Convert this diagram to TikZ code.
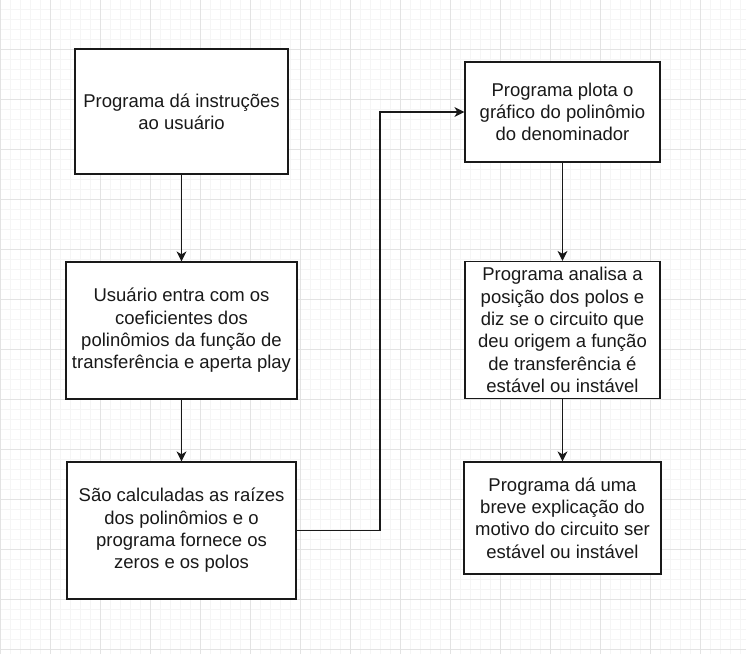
\documentclass[tikz,border=0pt]{standalone}
\usepackage{fontspec}
\setmainfont{Liberation Sans}
\usetikzlibrary{arrows.meta}
\begin{document}
\begin{tikzpicture}[x=1pt,y=-1pt,
  minorgrid/.style={draw=black!4,line width=0.6pt},
  majorgrid/.style={draw=black!11,line width=0.8pt},
  stepbox/.style={draw=black!90,line width=1.2pt,fill=white,align=center,inner sep=0pt,
     font=\fontsize{18.5}{22.3}\selectfont,text=black!90},
  flow/.style={draw=black!90,line width=1.2pt,-{Stealth[length=10pt,width=10pt,inset=3pt]}}]
\useasboundingbox (0,0) rectangle (746,654);
\fill[white] (0,0) rectangle (746,654);
% grid
\foreach \x in {10,20,...,740} \draw[minorgrid] (\x,0) -- (\x,654);
\foreach \y in {9,19,...,649} \draw[minorgrid] (0,\y) -- (746,\y);
\foreach \x in {0,50,...,700} \draw[majorgrid] (\x,0) -- (\x,654);
\foreach \y in {-1,49,...,649} \draw[majorgrid] (0,\y) -- (746,\y);
% boxes
\node[stepbox,minimum width=213pt,minimum height=125pt] (A) at (181.5,111.5)
  {Programa dá instruções\\ao usuário};
\node[stepbox,minimum width=231pt,minimum height=137pt] (B) at (181.5,330.5)
  {Usuário entra com os\\coeficientes dos\\polinômios da função de\\transferência e aperta play};
\node[stepbox,minimum width=229pt,minimum height=137pt] (C) at (181.5,530.5)
  {São calculadas as raízes\\dos polinômios e o\\programa fornece os\\zeros e os polos};
\node[stepbox,minimum width=195pt,minimum height=100pt] (D) at (562.5,112)
  {Programa plota o\\gráfico do polinômio\\do denominador};
\node[stepbox,minimum width=195pt,minimum height=137pt] (E) at (562.5,330)
  {Programa analisa a\\posição dos polos e\\diz se o circuito que\\deu origem a função\\de transferência é\\estável ou instável};
\node[stepbox,minimum width=197pt,minimum height=112pt] (F) at (562.5,518)
  {Programa dá uma\\breve explicação do\\motivo do circuito ser\\estável ou instável};
% connectors
\draw[flow] (A) -- (B);
\draw[flow] (B) -- (C);
\coordinate (bend) at (380,530.5);
\draw[flow] (C.east) -- (bend) |- (D.west);
\draw[flow] (D) -- (E);
\draw[flow] (E) -- (F);
\end{tikzpicture}
\end{document}
